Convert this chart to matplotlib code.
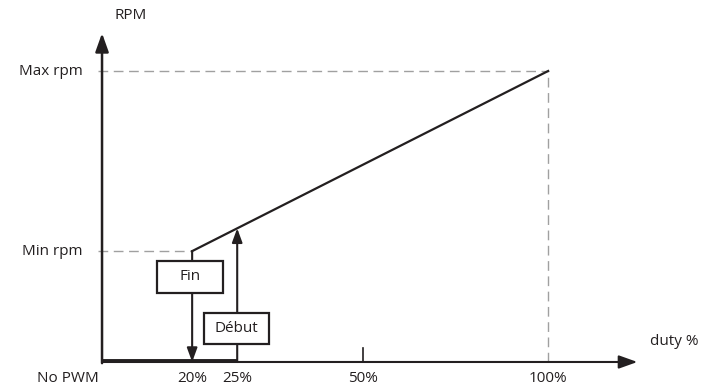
#!/usr/bin/env python3
"""Schematic fan curve: RPM against PWM duty, with start/stop thresholds."""

import numpy as np
import matplotlib.pyplot as plt
from matplotlib.patches import Rectangle

# duty cycle ticks (schematic positions along the axis, not to scale)
duty_labels = ["20%", "25%", "50%", "100%"]
duty_pos = [20.2, 30.3, 58.5, 100.0]

# fan curve: starts at min rpm at 20%, reaches max rpm at 100%
curve_x = [20.2, 100.0]
curve_y = [38.1, 100.0]
rpm_labels = ["Min rpm", "Max rpm"]
rpm_levels = [38.1, 100.0]

stop_duty = 20.2   # "Fin"
start_duty = 30.3  # "Début"

INK = "#231f20"
GREY = "#a0a0a0"
FS = 11

plt.rcParams["font.family"] = ["Open Sans", "DejaVu Sans"]

fig = plt.figure(figsize=(7.15, 3.91), dpi=100)
ax = fig.add_axes([0, 0, 1, 1])
ax.set_xlim(-22.87, 137.4)
ax.set_ylim(-9.97, 124.4)
ax.axis("off")

# guide lines
dash = (0, (7, 4))
ax.plot([-1, curve_x[1]], [rpm_levels[1]] * 2, color=GREY, lw=1.0, ls=dash)
ax.plot([-1, curve_x[0]], [rpm_levels[0]] * 2, color=GREY, lw=1.0, ls=dash)
ax.plot([curve_x[1]] * 2, [0, rpm_levels[1]], color=GREY, lw=1.0, ls=dash)

# axes with arrow heads
ax.annotate("", xy=(120.0, 0), xytext=(0, 0),
            arrowprops=dict(arrowstyle="-|>,head_length=0.7,head_width=0.25", color=INK,
                            lw=1.5, mutation_scale=16, shrinkA=0, shrinkB=0))
ax.annotate("", xy=(0, 113.0), xytext=(0, -0.4),
            arrowprops=dict(arrowstyle="-|>,head_length=0.7,head_width=0.25", color=INK,
                            lw=1.8, mutation_scale=16, shrinkA=0, shrinkB=0))

# no-PWM zone, below start threshold
ax.plot([0, start_duty], [0.2, 0.2], color=INK, lw=2.8, solid_capstyle="butt")

# curve
ax.plot(curve_x, curve_y, color=INK, lw=1.6)

# 50% tick
ax.plot([duty_pos[2]] * 2, [0, 4.8], color=INK, lw=1.2)

# stop arrow (down) and start arrow (up)
small_head = "-|>,head_length=0.6,head_width=0.22"
ax.annotate("", xy=(stop_duty, 0), xytext=(stop_duty, curve_y[0]),
            arrowprops=dict(arrowstyle=small_head, color=INK, lw=1.5, mutation_scale=14,
                            shrinkA=0, shrinkB=0))
start_rpm = np.interp(start_duty, curve_x, curve_y)
ax.annotate("", xy=(start_duty, start_rpm), xytext=(start_duty, 0),
            arrowprops=dict(arrowstyle=small_head, color=INK, lw=1.5, mutation_scale=14,
                            shrinkA=0, shrinkB=0))

# labelled boxes
for cx, cy, w, h, label in [(19.7, 29.3, 14.7, 11.0, "Fin"),
                            (30.2, 11.4, 14.6, 10.7, "Début")]:
    ax.add_patch(Rectangle((cx - w / 2, cy - h / 2), w, h, facecolor="white",
                           edgecolor=INK, lw=1.6, zorder=5))
    ax.text(cx, cy, label, ha="center", va="center", fontsize=FS, color=INK, zorder=6)

# tick labels
for pos, label in zip(duty_pos, duty_labels):
    ax.text(pos, -5.8, label, ha="center", va="center", fontsize=FS, color=INK)
ax.text(-7.6, -5.8, "No PWM", ha="center", va="center", fontsize=FS, color=INK)
for level, label in zip(rpm_levels, rpm_labels):
    ax.text(-4.3, level, label, ha="right", va="center", fontsize=FS, color=INK)

ax.text(6.3, 119.0, "RPM", ha="center", va="center", fontsize=FS, color=INK)
ax.text(128.2, 7.0, "duty %", ha="center", va="center", fontsize=FS, color=INK)

fig.savefig("out.png", dpi=100)
